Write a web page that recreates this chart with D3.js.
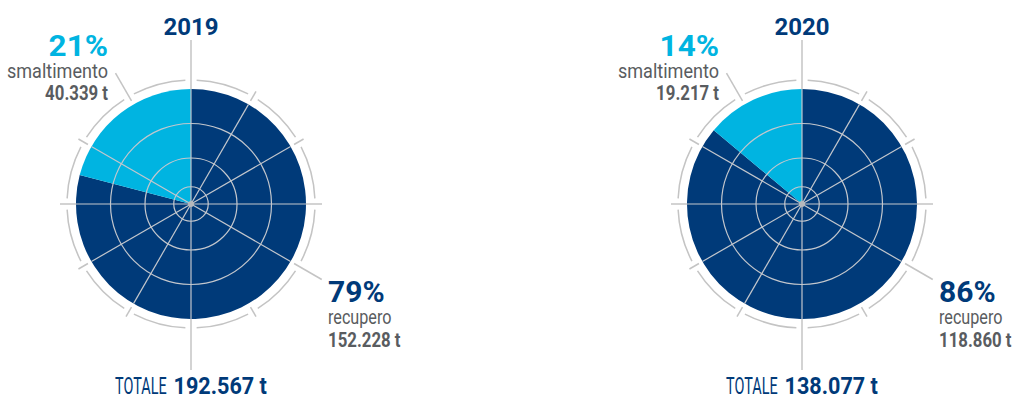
<!DOCTYPE html>
<html>
<head>
<meta charset="utf-8">
<script src="https://cdn.jsdelivr.net/npm/d3@7"></script>
<style>
  html, body { margin: 0; padding: 0; background: #fff; }
  svg { display: block; }
  text { font-family: Roboto, "Liberation Sans", sans-serif; }
</style>
</head>
<body>
<svg id="chart" width="1014" height="399"></svg>
<script>
// Rifiuti: recupero vs smaltimento (tonnellate)
const years = ["2019", "2020"];
const recupero = [152228, 118860];
const smaltimento = [40339, 19217];
const totale = [192567, 138077];
const categories = ["recupero", "smaltimento"];

const navy = "#003a79";
const cyan = "#00b4e1";
const grey = "#595c60";
const lineGrey = "#c4c4c4";

const it = d3.formatLocale({ decimal: ",", thousands: ".", grouping: [3], currency: ["€", ""] });
const fmt = it.format(",d");

const svg = d3.select("#chart");
const centers = d3.scalePoint().domain(years).range([191, 802]);
const cy = 204;
const R = 115;

const color = d3.scaleOrdinal().domain(categories).range([navy, cyan]);
const pie = d3.pie().sort(null).value(d => d.value);
const arc = d3.arc().innerRadius(0).outerRadius(R);
const rad = d3.scaleLinear().domain([0, 1]).range([0, R]);
const toRad = a => a * Math.PI / 180;
const pt = (a, r) => [Math.sin(toRad(a)) * r, -Math.cos(toRad(a)) * r];

function label(g, o) {
  return g.append("text")
    .attr("transform", `translate(${o.x},${o.y}) scale(${o.sx || 1},1)`)
    .attr("text-anchor", o.anchor || "start")
    .attr("font-size", o.size)
    .attr("font-weight", o.weight || 400)
    .attr("fill", o.color)
    .text(o.text);
}

years.forEach((year, i) => {
  const cx = centers(year);
  const g = svg.append("g").attr("transform", `translate(${cx},${cy})`);
  const data = [
    { key: "recupero", value: recupero[i] },
    { key: "smaltimento", value: smaltimento[i] }
  ];
  const pctRec = Math.round(recupero[i] / totale[i] * 100);
  const pctSm = Math.round(smaltimento[i] / totale[i] * 100);

  // sectors
  g.selectAll("path.slice").data(pie(data)).join("path")
    .attr("class", "slice")
    .attr("d", arc)
    .attr("fill", d => color(d.data.key));

  // concentric guides
  g.selectAll("circle.ring").data([0.15, 0.4, 0.7]).join("circle")
    .attr("class", "ring")
    .attr("r", d => rad(d))
    .attr("fill", "none")
    .attr("stroke", "#c3c7cd")
    .attr("stroke-width", 1.2);

  // spokes
  const spokes = [0, 30, 60, 90, 120, 180, 210, 240, 270, 300];
  g.selectAll("line.spoke").data(spokes).join("line")
    .attr("class", "spoke")
    .attr("x1", 0).attr("y1", 0)
    .attr("x2", d => pt(d, R)[0]).attr("y2", d => pt(d, R)[1])
    .attr("stroke", "#c3c7cd")
    .attr("stroke-width", 1.2);

  g.append("circle").attr("r", 3).attr("fill", "#b5b8bc");

  // outer dial: arc segments between ticks
  const ticks = d3.range(0, 360, 30);
  const gap = 2.6;
  const ringArc = d3.arc().innerRadius(124).outerRadius(124);
  g.selectAll("path.dial").data(ticks).join("path")
    .attr("class", "dial")
    .attr("d", d => ringArc({ startAngle: toRad(d + gap), endAngle: toRad(d + 30 - gap) }))
    .attr("fill", "none")
    .attr("stroke", lineGrey)
    .attr("stroke-width", 1.5);

  const tickSpan = a => {
    if (a === 0) return [R, 164];
    if (a === 180) return [R, 166];
    if (a === 120 || a === 330) return [119, 151];
    if (a === 90 || a === 270) return [R, 131];
    return [119, 130];
  };
  g.selectAll("line.tick").data(ticks).join("line")
    .attr("class", "tick")
    .attr("x1", d => pt(d, tickSpan(d)[0])[0]).attr("y1", d => pt(d, tickSpan(d)[0])[1])
    .attr("x2", d => pt(d, tickSpan(d)[1])[0]).attr("y2", d => pt(d, tickSpan(d)[1])[1])
    .attr("stroke", lineGrey)
    .attr("stroke-width", 1.5);

  // texts (page coordinates)
  const t = svg.append("g");
  label(t, { x: cx, y: 35, text: year, size: 24, weight: 700, color: navy, anchor: "middle" });

  label(t, { x: cx - 83, y: 56, text: pctSm + "%", size: 30, weight: 700, color: cyan, anchor: "end", sx: 1.05 });
  label(t, { x: cx - 83, y: 78, text: "smaltimento", size: 21, color: grey, anchor: "end", sx: 0.86 });
  label(t, { x: cx - 83, y: 100, text: fmt(smaltimento[i]) + " t", size: 20, weight: 700, color: grey, anchor: "end", sx: 0.84 });

  label(t, { x: cx + 137, y: 302, text: pctRec + "%", size: 30, weight: 700, color: navy, sx: 1.0 });
  label(t, { x: cx + 137, y: 324, text: "recupero", size: 21, color: grey, sx: 0.77 });
  label(t, { x: cx + 137, y: 347, text: fmt(recupero[i]) + " t", size: 20, weight: 700, color: grey, sx: 0.84 });

  // total line, centred under the dial
  const base = 394;
  const a = label(t, { x: 0, y: base, text: "TOTALE", size: 24, color: navy, sx: 0.6 });
  const b = label(t, { x: 0, y: base, text: fmt(totale[i]) + " t", size: 24, weight: 700, color: navy, sx: 0.9 });
  const wa = a.node().getComputedTextLength() * 0.6;
  const wb = b.node().getComputedTextLength() * 0.9;
  const sp = 7;
  const x0 = cx - (wa + sp + wb) / 2;
  a.attr("transform", `translate(${x0},${base}) scale(0.6,1)`);
  b.attr("transform", `translate(${x0 + wa + sp},${base}) scale(0.9,1)`);
});
</script>
</body>
</html>
